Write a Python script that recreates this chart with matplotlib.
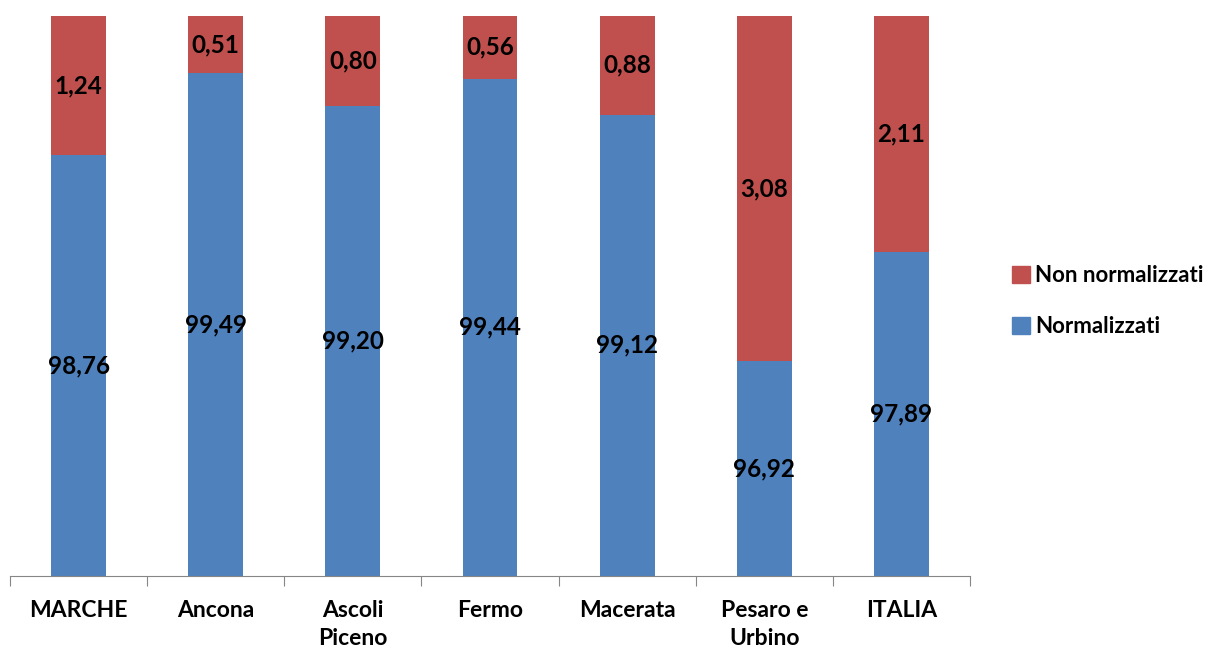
import numpy as np
import matplotlib.pyplot as plt
from matplotlib.patches import Patch

plt.rcParams['font.family'] = ['Lato', 'DejaVu Sans']

categories = ['MARCHE', 'Ancona', 'Ascoli\nPiceno', 'Fermo', 'Macerata', 'Pesaro e\nUrbino', 'ITALIA']
normalizzati = [98.76, 99.49, 99.20, 99.44, 99.12, 96.92, 97.89]
non_normalizzati = [1.24, 0.51, 0.80, 0.56, 0.88, 3.08, 2.11]

blue = '#4F81BD'
red = '#C0504D'
y_min = 95

fig = plt.figure(figsize=(12.19, 6.5), dpi=100)
ax = fig.add_axes([10 / 1219, 74 / 650, 960 / 1219, 560 / 650])

x = np.arange(len(categories))
ax.bar(x, np.array(normalizzati) - y_min, bottom=y_min, width=0.4, color=blue)
ax.bar(x, non_normalizzati, bottom=normalizzati, width=0.4, color=red)

# value labels in the middle of each segment
for i in range(len(categories)):
    ax.text(x[i], (y_min + normalizzati[i]) / 2, f'{normalizzati[i]:.2f}'.replace('.', ','),
            ha='center', va='center', fontsize=17.5, fontweight='bold')
    ax.text(x[i], normalizzati[i] + non_normalizzati[i] / 2, f'{non_normalizzati[i]:.2f}'.replace('.', ','),
            ha='center', va='center', fontsize=17.5, fontweight='bold')

ax.set_xlim(-0.5, len(categories) - 0.5)
ax.set_ylim(y_min, 100)
ax.set_yticks([])
for s in ['top', 'right', 'left']:
    ax.spines[s].set_visible(False)
ax.spines['bottom'].set_color('#868686')

# tick marks on the category boundaries, labels centred under bars
ax.set_xticks(np.arange(-0.5, len(categories)), minor=False)
ax.set_xticklabels([])
ax.tick_params(axis='x', direction='out', length=7, color='#868686')
ax.set_xticks(x, minor=True)
ax.set_xticklabels(categories, minor=True, fontsize=16.5, fontweight='bold', linespacing=1.45)
ax.tick_params(axis='x', which='minor', length=0, pad=17)

handles = [Patch(color=red, label='Non normalizzati'), Patch(color=blue, label='Normalizzati')]
fig.legend(handles=handles, loc='center left', bbox_to_anchor=(1012 / 1219, 1 - 301 / 650),
           frameon=False, prop={'size': 16, 'weight': 'bold'}, borderpad=0, borderaxespad=0,
           handlelength=0.8, handleheight=0.8, handletextpad=0.25, labelspacing=1.35)

fig.savefig('out.png', dpi=100)
